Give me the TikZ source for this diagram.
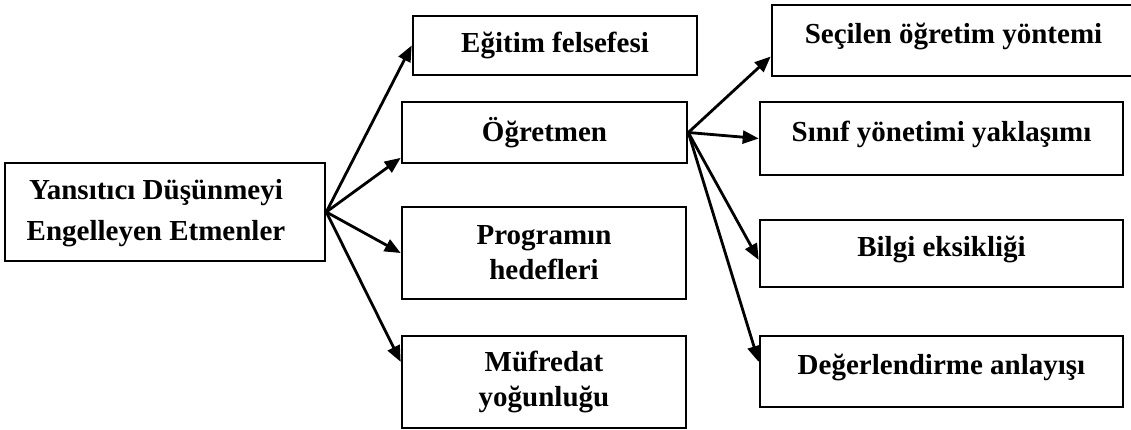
\documentclass[tikz,border=0pt]{standalone}
\usepackage{fontspec}
\setmainfont{Liberation Serif}
\usetikzlibrary{arrows.meta}

\tikzset{
  factorbox/.style={draw, line width=2.6pt, align=center, inner sep=0pt,
    font=\bfseries\fontsize{29}{35}\selectfont},
  raised/.style={text depth=14pt},
  link/.style={line width=2.8pt, -{Triangle[length=16pt,width=13pt]}}
}

\begin{document}
\begin{tikzpicture}[x=1pt,y=-1pt]
\useasboundingbox (0,0) rectangle (1131,430);

% main factor (text sits a little left of the box centre)
\node[factorbox, minimum width=320pt, minimum height=98pt,
  font=\bfseries\fontsize{29}{41}\selectfont] (main) at (165,212)
  {\begin{tabular}{@{}c@{}}Yansıtıcı Düşünmeyi\\Engelleyen Etmenler\end{tabular}\hspace*{18pt}};

% first level
\node[factorbox, minimum width=284pt, minimum height=59pt] (egitim) at (555,45.5) {Eğitim felsefesi};
\node[factorbox, minimum width=285pt, minimum height=61pt] (ogretmen) at (544.5,132.5) {Öğretmen};
\node[factorbox, minimum width=284pt, minimum height=92pt] (program) at (544,253) {Programın\\hedefleri};
\node[factorbox, minimum width=284pt, minimum height=92pt] (mufredat) at (544,382) {Müfredat\\yoğunluğu};

% second level (teacher)
\node[factorbox, raised, minimum width=363pt, minimum height=71pt] (secilen) at (953.5,40.5) {Seçilen öğretim yöntemi};
\node[factorbox, raised, minimum width=363pt, minimum height=73pt] (sinif) at (941.5,138.5) {Sınıf yönetimi yaklaşımı};
\node[factorbox, raised, minimum width=363pt, minimum height=67pt] (bilgi) at (941.5,253.5) {Bilgi eksikliği};
\node[factorbox, raised, minimum width=363pt, minimum height=71pt] (deger) at (941.5,371.5) {Değerlendirme anlayışı};

\draw[link] (main.east) -- (egitim.west);
\draw[link] (main.east) -- (ogretmen.190);
\draw[link] (main.east) -- (program.west);
\draw[link] (main.east) -- (mufredat.172);

\draw[link] (ogretmen.east) -- (secilen.185);
\draw[link] (ogretmen.east) -- (sinif.west);
\draw[link] (ogretmen.east) -- (bilgi.182);
\draw[link] (ogretmen.east) -- (deger.177);
\end{tikzpicture}
\end{document}
